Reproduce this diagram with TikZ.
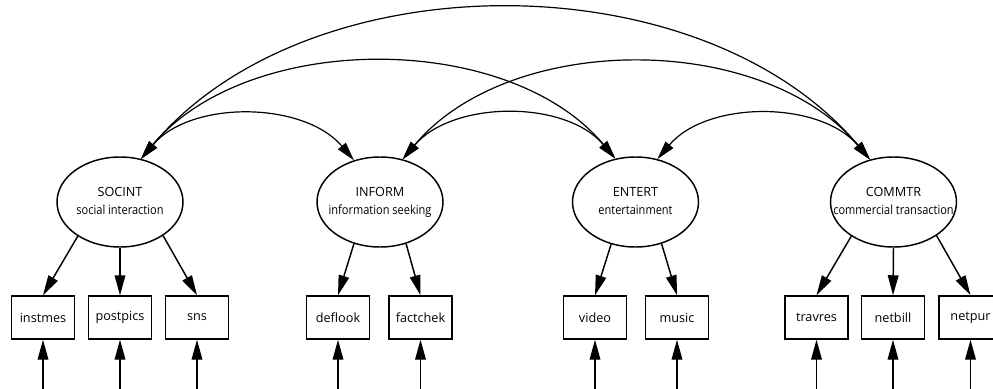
\documentclass[tikz,border=0pt]{standalone}
\usepackage{graphicx}
\usepackage{fontspec}
\setmainfont{Open Sans}
\usetikzlibrary{arrows.meta,shapes.geometric}
\newcommand\latlab[2]{\makebox[0pt]{\begin{tabular}{@{}c@{}}#1\\\scalebox{0.87}[1]{#2}\end{tabular}}}
\begin{document}
\begin{tikzpicture}[x=0.75pt,y=-0.75pt,
  every node/.style={font=\fontsize{9.5}{13.5}\selectfont},
  lat/.style={ellipse, draw, line width=1.1pt, minimum width=94.5pt, minimum height=67.5pt, inner sep=0pt},
  obs/.style={rectangle, draw, line width=1.1pt, minimum width=47.25pt, minimum height=32.25pt, inner sep=0pt},
  load/.style={line width=1.1pt, -{Triangle[length=15pt,width=8pt]}},
  cov/.style={line width=0.9pt, {Triangle[length=14pt,width=7.5pt]}-{Triangle[length=14pt,width=7.5pt]}}]
\useasboundingbox (0,0) rectangle (993,389);
% latent variables
\node[lat] (soc) at (120,202) {\latlab{SOCINT}{social interaction}};
\node[lat] (inf) at (380,202) {\latlab{INFORM}{information seeking}};
\node[lat] (ent) at (635.5,202) {\latlab{ENTERT}{entertainment}};
\node[lat] (com) at (893.5,202) {\latlab{COMMTR}{commercial transaction}};
% indicators
\node[obs] (instmes) at (43,317.5) {instmes};
\node[obs] (postpics) at (120,317.5) {postpics};
\node[obs] (sns) at (197,317.5) {sns};
\node[obs] (deflook) at (338,317.5) {deflook};
\node[obs] (factchek) at (420.5,317.5) {factchek};
\node[obs] (video) at (595,317.5) {video};
\node[obs] (music) at (677,317.5) {music};
\node[obs] (travres) at (816.5,317.5) {travres};
\node[obs] (netbill) at (893,317.5) {netbill};
\node[obs] (netpur) at (970.5,317.5) {netpur};
% error terms (off the picture)
\coordinate (e1) at (43,420);
\coordinate (e2) at (120,420);
\coordinate (e3) at (197,420);
\coordinate (e4) at (338,420);
\coordinate (e5) at (420.5,420);
\coordinate (e6) at (595,420);
\coordinate (e7) at (677,420);
\coordinate (e8) at (816.5,420);
\coordinate (e9) at (893,420);
\coordinate (e10) at (970.5,420);
\draw[load] (e1) -- (instmes.south);
\draw[load] (e2) -- (postpics.south);
\draw[load] (e3) -- (sns.south);
\draw[load] (e4) -- (deflook.south);
\draw[load] (e5) -- (factchek.south);
\draw[load] (e6) -- (video.south);
\draw[load] (e7) -- (music.south);
\draw[load] (e8) -- (travres.south);
\draw[load] (e9) -- (netbill.south);
\draw[load] (e10) -- (netpur.south);
% loadings
\draw[load] (soc.219) -- (instmes.north);
\draw[load] (soc.south) -- (postpics.north);
\draw[load] (soc.322) -- (sns.north);
\draw[load] (inf.238) -- (deflook.north);
\draw[load] (inf.302) -- (factchek.north);
\draw[load] (ent.240) -- (video.north);
\draw[load] (ent.302) -- (music.north);
\draw[load] (com.219) -- (travres.north);
\draw[load] (com.south) -- (netbill.north);
\draw[load] (com.322) -- (netpur.north);
% covariances
\draw[cov] (soc.64) .. controls +(50,-59) and +(-50,-59) .. (inf.122);
\draw[cov] (soc.64) .. controls +(107,-128) and +(-107,-128) .. (ent.115);
\draw[cov] (soc.64) .. controls +(168,-200) and +(-168,-200) .. (com.119);
\draw[cov] (inf.62) .. controls +(50,-59) and +(-50,-59) .. (ent.115);
\draw[cov] (inf.62) .. controls +(107,-128) and +(-107,-128) .. (com.119);
\draw[cov] (ent.63) .. controls +(50,-59) and +(-50,-59) .. (com.119);
\end{tikzpicture}
\end{document}
